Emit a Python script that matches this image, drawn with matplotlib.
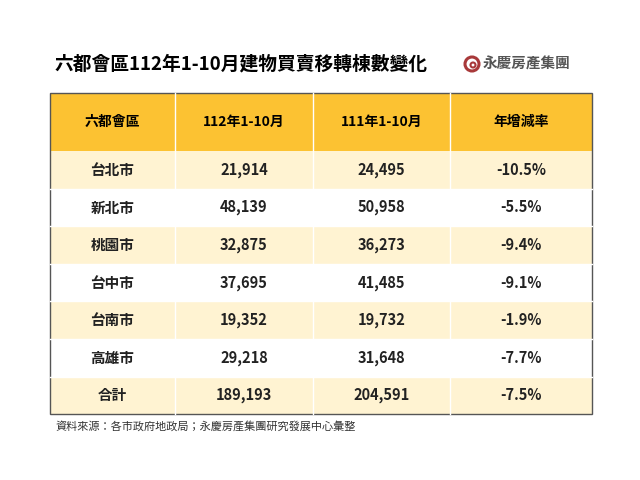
import matplotlib
matplotlib.use("Agg")
import matplotlib.pyplot as plt
from matplotlib.patches import Rectangle, Circle
from matplotlib import font_manager as fm

names = {f.name for f in fm.fontManager.ttflist}
fam = [n for n in ["Noto Sans CJK TC", "Noto Sans CJK JP", "Noto Sans CJK SC", "Noto Sans CJK KR"] if n in names]
plt.rcParams["font.family"] = fam + ["DejaVu Sans"]

title = "六都會區112年1-10月建物買賣移轉棟數變化"
headers = ["六都會區", "112年1-10月", "111年1-10月", "年增減率"]
cities = ["台北市", "新北市", "桃園市", "台中市", "台南市", "高雄市", "合計"]
v112 = [21914, 48139, 32875, 37695, 19352, 29218, 189193]
v111 = [24495, 50958, 36273, 41485, 19732, 31648, 204591]
rate = [-10.5, -5.5, -9.4, -9.1, -1.9, -7.7, -7.5]
source = "資料來源：各市政府地政局；永慶房產集團研究發展中心彙整"

fig = plt.figure(figsize=(6.4, 4.8), dpi=100)
ax = fig.add_axes([0, 0, 1, 1])
ax.set_xlim(0, 640); ax.set_ylim(480, 0); ax.axis("off")

cols = [50, 175, 313, 450, 592]
top, hdr_bot, rh = 93, 151, 37.6
ax.text(55, 64, title, fontsize=13.5, fontweight="bold", va="center", ha="left")
ax.add_patch(Circle((472, 64), 7, fill=False, ec="#a8393a", lw=2.2))
ax.add_patch(Circle((473, 65), 2.5, fill=False, ec="#a8393a", lw=1.5))
ax.text(483, 64, "永慶房產集團", fontsize=10.5, fontweight="bold", color="#555555", va="center")

ax.add_patch(Rectangle((cols[0], top), cols[-1]-cols[0], hdr_bot-top, color="#fcc232", lw=0))
for i, h in enumerate(headers):
    ax.text((cols[i]+cols[i+1])/2, (top+hdr_bot)/2, h, ha="center", va="center", fontsize=10, fontweight="bold")
for r in range(len(cities)):
    y0 = hdr_bot + r*rh
    fc = "#fff3d2" if r % 2 == 0 else "white"
    ax.add_patch(Rectangle((cols[0], y0), cols[-1]-cols[0], rh, color=fc, lw=0))
    vals = [cities[r], f"{v112[r]:,}", f"{v111[r]:,}", f"{rate[r]:.1f}%"]
    for i, t in enumerate(vals):
        ax.text((cols[i]+cols[i+1])/2, y0+rh/2, t, ha="center", va="center", fontsize=10.5, fontweight="bold", color="#222222")
bottom = hdr_bot + len(cities)*rh
for x in cols[1:-1]:
    ax.plot([x, x], [top, bottom], color="white", lw=1)
for r in range(1, len(cities)):
    ax.plot([cols[0], cols[-1]], [hdr_bot + r*rh]*2, color="white", lw=1)
ax.add_patch(Rectangle((cols[0], top), cols[-1]-cols[0], bottom-top, fill=False, ec="#555555", lw=1))
ax.text(55, bottom+12, source, fontsize=8, color="#333333", va="center")
fig.savefig("out.png", dpi=100)
